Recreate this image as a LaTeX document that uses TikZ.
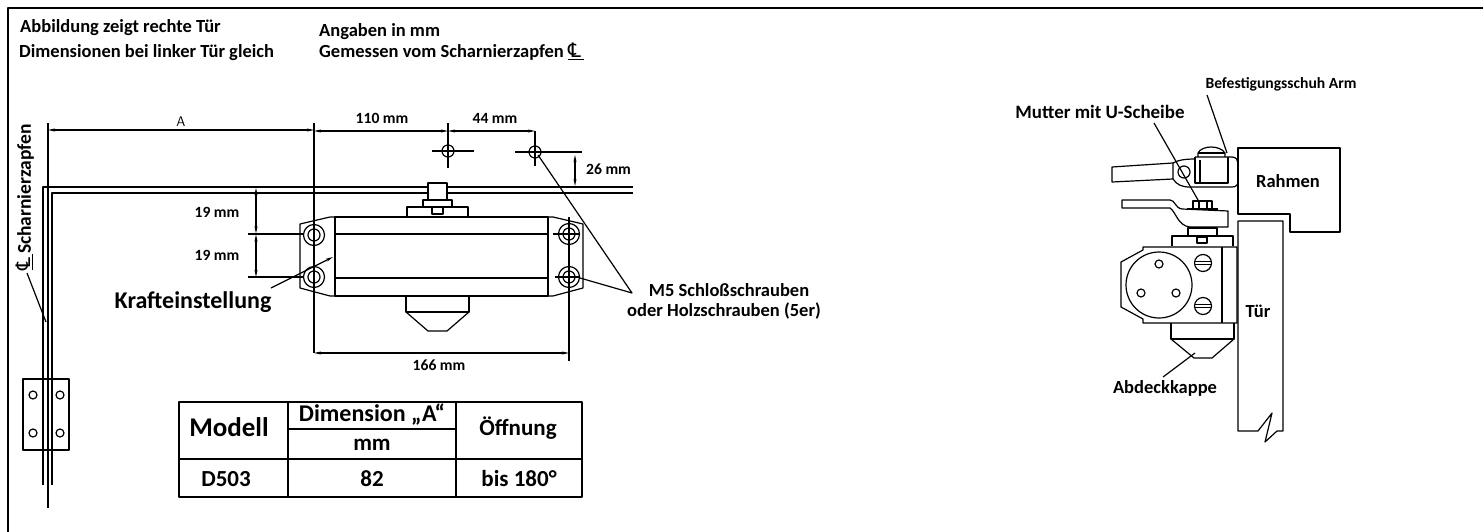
\documentclass[tikz,border=0pt]{standalone}
\usepackage{fontspec}
\setmainfont{Carlito}
\newfontfamily\clfont{DejaVu Sans}
\newcommand{\clsign}{\underline{\clfont\mdseries\fontsize{20}{20}\selectfont ℄\,}}
\usetikzlibrary{arrows.meta}
\tikzset{
  lbl/.style={font=\bfseries\fontsize{18.5}{20}\selectfont, inner sep=0pt},
  dimlbl/.style={font=\bfseries\fontsize{15.6}{17}\selectfont, inner sep=0pt},
  biglbl/.style={font=\bfseries\fontsize{24}{26}\selectfont, inner sep=0pt},
  cell/.style={font=\bfseries\fontsize{23}{25}\selectfont, inner sep=0pt},
  line/.style={line width=1.2pt},
  thick line/.style={line width=1.5pt},
  dim/.style={line width=1.1pt, <->, >={Stealth[length=7pt,width=3pt]}}
}
\begin{document}
\begin{tikzpicture}[x=1pt, y=-1pt, line join=round]
\useasboundingbox (0, 0) rectangle (1483, 532);
\draw[line width=1.6pt] (8, 532) -- (8, 8) -- (1483, 8);

\node[lbl, anchor=west] (shows) at (20, 28) {Abbildung zeigt rechte Tür};
\node[lbl, anchor=west] (same) at (19, 53) {Dimensionen bei linker Tür gleich};
\node[lbl, anchor=west] (units) at (319, 32) {Angaben in mm};
\node[lbl, anchor=base west] (measured) at (319, 58) {Gemessen vom Scharnierzapfen \clsign};

\draw[line] (48, 123) -- (48, 508);
\draw[thick line] (43, 485) -- (43, 187) -- (428, 187);
\draw[thick line] (52, 485) -- (52, 193) -- (428, 193);
\draw[thick line] (447, 187) -- (633, 187);
\draw[thick line] (447, 193) -- (633, 193);
\draw[line] (23, 379) rectangle (69, 450);
\foreach \hx in {33, 60}
  \foreach \hy in {395, 433}
    \draw[line] (\hx, \hy) circle (4);
\node[lbl, font=\bfseries\fontsize{19.5}{21}\selectfont, rotate=90] (pin) at (25, 197) {\clsign Scharnierzapfen};
\draw[line] (27, 273) -- (46, 322);

\draw[dim] (48, 130) -- (314, 130);
\draw[dim] (314, 131) -- (448, 131);
\draw[dim] (448, 131) -- (535, 131);
\node[font=\sffamily\fontsize{14}{15}\selectfont, inner sep=0pt] (dima) at (181, 122) {A};
\node[dimlbl] (d110) at (382, 118) {110 mm};
\node[dimlbl] (d44) at (495, 118) {44 mm};
\draw[line] (314, 123) -- (314, 353);
\draw[line] (448, 123) -- (448, 168);
\draw[line] (535, 131) -- (535, 166);
\draw[line] (432, 151) -- (474, 151);
\draw[line] (515, 152) -- (582, 152);
\draw[line] (448, 151) circle (6);
\draw[line] (535, 152) circle (6);
\draw[dim] (575, 155) -- (575, 186);
\node[dimlbl, anchor=west] (d26) at (586, 169) {26 mm};

\draw[line] (428, 187) -- (428, 183) -- (447, 183) -- (447, 200) -- (428, 200) -- cycle;
\draw[line] (423, 207) -- (423, 200) -- (452, 200) -- (452, 207);
\draw[line] (407, 217) -- (407, 207) -- (468, 207) -- (468, 217);
\draw[line] (432, 207) rectangle (443, 214);

\draw[line] (335, 217) rectangle (548, 296);
\draw[line] (335, 234) -- (548, 234);
\draw[line] (335, 278) -- (548, 278);
\draw[line] (335, 217) -- (330, 217) -- (300, 224) -- (300, 288) -- (330, 296) -- (335, 296);
\draw[line] (548, 217) -- (553, 217) -- (583, 224) -- (583, 288) -- (553, 296) -- (548, 296);
\foreach \sx/\sy in {314/235, 314/277, 569/234, 569/277} {
  \draw[line] (\sx, \sy) circle (10.5);
  \draw[line] (\sx, \sy) circle (6);
}
\draw[line] (569, 217) -- (569, 361);
\draw[line] (553, 234) -- (580, 234);
\draw[line] (555, 277) -- (580, 277);
\draw[line] (406, 296) -- (406, 312) -- (469, 312) -- (469, 296);
\draw[line] (406, 312) -- (428, 331) -- (447, 331) -- (469, 312);

\draw[dim] (314, 353) -- (569, 353);
\node[dimlbl] (d166) at (439, 365) {166 mm};

\draw[line] (248, 234) -- (304, 234);
\draw[line] (248, 277) -- (304, 277);
\draw[dim] (256, 188) -- (256, 233.5);
\draw[dim] (256, 234.5) -- (256, 277);
\node[dimlbl] (d19a) at (217, 212) {19 mm};
\node[dimlbl] (d19b) at (217, 255) {19 mm};

\node[biglbl] (force) at (193, 302) {Krafteinstellung};
\coordinate (forcetip) at (333, 257);
\draw[line, -{Stealth[length=7pt,width=3pt]}] (271, 288) -- (forcetip);

\node[lbl] (bolts) at (729, 290) {M5 Schloßschrauben};
\node[lbl] (boltsb) at (724, 311) {oder Holzschrauben (5er)};
\coordinate (boltfork) at (632, 293);
\draw[line] (538, 155) -- (boltfork) -- (580, 278);

\draw[line width=1.4pt] (179, 402) rectangle (582, 497);
\draw[line width=1.4pt] (179, 459) -- (582, 459);
\draw[line width=1.4pt] (288, 402) -- (288, 497);
\draw[line width=1.4pt] (456, 402) -- (456, 497);
\draw[line width=1.4pt] (288, 429) -- (456, 429);
\node[cell, font=\bfseries\fontsize{27}{29}\selectfont] (model) at (229, 427) {Modell};
\node[cell, font=\bfseries\fontsize{24}{26}\selectfont] (dimension) at (372, 415) {Dimension „A“};
\node[cell] (mm) at (372, 445) {mm};
\node[cell] (opening) at (518, 428) {Öffnung};
\node[cell] (d503) at (226, 479) {D503};
\node[cell] (val) at (372, 479) {82};
\node[cell] (range) at (519, 479) {bis 180°};

\draw[line] (1238, 148) -- (1340, 148) -- (1340, 232) -- (1290, 232) -- (1290, 214) -- (1238, 214) -- cycle;
\draw[line] (1258, 431) -- (1238, 431) -- (1238, 221) -- (1283, 221) -- (1283, 431) -- (1277, 431) -- (1265, 442) -- (1272, 413) -- cycle;
\node[lbl] (frame) at (1288, 181) {Rahmen};
\node[lbl] (door) at (1258, 311) {Tür};

\draw[line] (1112, 167) -- (1173, 163) -- (1173, 179) -- (1112, 182) -- cycle;
\draw[line] (1184, 172) circle (6);
\draw[line] (1173, 163) .. controls (1178, 160) and (1186, 159) .. (1195, 159);
\draw[line] (1195, 157) -- (1232, 157) .. controls (1236, 157) and (1238, 160) .. (1238, 163) -- (1238, 181) .. controls (1238, 185) and (1236, 187) .. (1232, 187) -- (1190, 187) .. controls (1182, 187) and (1177, 185) .. (1173, 179);
\draw[line] (1195, 157) -- (1195, 183) -- (1228, 183) -- (1228, 157);
\draw[line] (1200, 160) -- (1200, 183);
\draw[line] (1198, 153) -- (1225, 153);
\draw[line] (1198, 157) -- (1198, 153) .. controls (1202, 145) and (1220, 145) .. (1225, 153) -- (1225, 157);

\draw[line] (1122, 200) -- (1170, 200) .. controls (1175, 200) and (1175, 208) .. (1182, 209) -- (1228, 211) -- (1228, 227) -- (1190, 227) .. controls (1178, 226) and (1176, 212) .. (1170, 208) -- (1122, 208) -- cycle;
\draw[line width=2pt] (1187, 209) -- (1218, 209);
\draw[line] (1193, 209) -- (1193, 201) -- (1212, 201) -- (1212, 209);
\draw[line] (1199, 201) -- (1199, 209);
\draw[line] (1207, 201) -- (1207, 209);
\draw[line] (1188, 236) -- (1188, 228) -- (1217, 228) -- (1217, 236);
\draw[line width=2pt] (1188, 228) -- (1217, 228);
\draw[line] (1172, 246) -- (1172, 236) -- (1233, 236) -- (1233, 246);
\draw[line] (1197, 237) rectangle (1207, 243);

\draw[line] (1143, 247) -- (1237, 247) -- (1237, 323) -- (1143, 323) -- (1143, 319) -- (1121, 307) -- (1121, 262) -- (1143, 250) -- cycle;
\draw[line] (1222, 247) -- (1222, 323);
\draw[line] (1159, 285) circle (33);
\foreach \px/\py in {1159/264, 1141/293, 1176/293}
  \draw[line] (\px, \py) circle (4);
\foreach \py in {263, 306} {
  \draw[line] (1203, \py) circle (8.5);
  \draw[line] (1195, \py-1.5) -- (1211, \py-1.5);
  \draw[line] (1195, \py+1.5) -- (1211, \py+1.5);
}
\draw[line] (1171, 323) -- (1171, 339) -- (1234, 339) -- (1234, 323);
\draw[line] (1171, 339) -- (1194, 358) -- (1212, 358) -- (1234, 339);

\node[lbl] (cap) at (1165, 388) {Abdeckkappe};
\node[lbl, font=\bfseries\fontsize{18.9}{20}\selectfont] (nut) at (1100, 112) {Mutter mit U-Scheibe};
\node[dimlbl] (shoe) at (1281, 84) {Befestigungsschuh Arm};
\draw[line] (1163, 377) -- (1195, 353);
\draw[line] (1154, 123) -- (1198, 200);
\draw[line] (1207, 95) -- (1227, 153);
\end{tikzpicture}
\end{document}
